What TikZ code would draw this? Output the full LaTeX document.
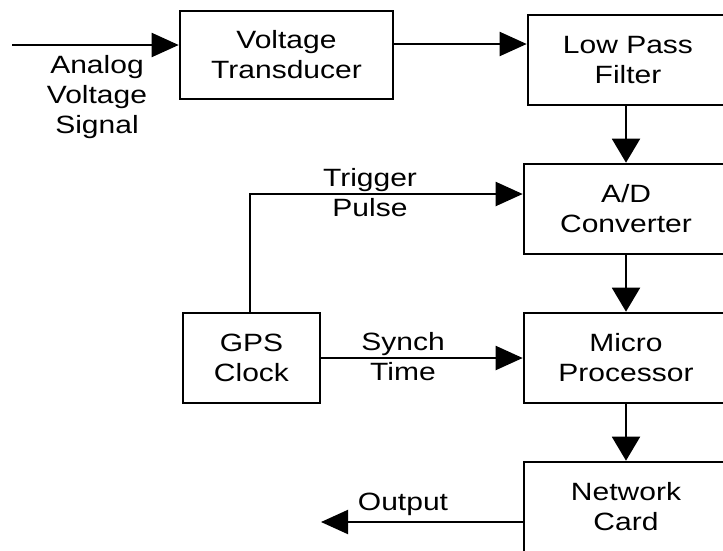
\documentclass[tikz,border=0pt]{standalone}
\usepackage{fontspec}
\setmainfont{Liberation Sans}[FakeStretch=1.2]
\usetikzlibrary{arrows.meta}
\tikzset{
  blk/.style={draw, line width=2.6pt, rectangle, align=center, inner sep=0pt},
  lbl/.style={align=center, inner sep=0pt},
  conn/.style={line width=2pt},
  harr/.style={conn, -{Triangle[length=27pt,width=24pt]}},
  varr/.style={conn, -{Triangle[length=24pt,width=28pt]}}
}
\begin{document}
\begin{tikzpicture}[x=1pt,y=-1pt,font=\fontsize{25}{30}\selectfont]
\fill[white] (0,0) rectangle (723,550);
\useasboundingbox (0,0) rectangle (723,550);
\begin{scope}
\clip (0,0) rectangle (723,550);
\node[blk, minimum width=213pt, minimum height=88pt] (vt) at (286.5,55) {Voltage\\Transducer};
\node[blk, minimum width=200pt, minimum height=90pt] (lpf) at (628,60) {Low Pass\\Filter};
\node[blk, minimum width=204pt, minimum height=90pt] (ad) at (626,209) {A/D\\Converter};
\node[blk, minimum width=204pt, minimum height=90pt] (mp) at (626,358) {Micro\\Processor};
\node[blk, minimum width=204pt, minimum height=90pt] (nc) at (626,507) {Network\\Card};
\node[blk, minimum width=137pt, minimum height=90pt] (gps) at (251.5,358) {GPS\\Clock};

\coordinate (in) at (12,45);
\coordinate (out) at (321,522);
\coordinate (trigtop) at (250,194);

\draw[harr] (in) -- (in -| vt.west);
\draw[harr] (vt.east |- 0,44) -- (lpf.west |- 0,44);
\draw[varr] (lpf.south -| ad.north) -- (ad.north);
\draw[varr] (ad.south) -- (mp.north);
\draw[varr] (mp.south) -- (nc.north);
\draw[harr] (gps.north -| trigtop) -- (trigtop) -- (trigtop -| ad.west);
\draw[harr] (gps.east) -- (mp.west);
\draw[harr] (nc.west |- out) -- (out);
\end{scope}

\node[lbl] (ans) at (97,97) {Analog\\Voltage\\Signal};
\node[lbl] (trig) at (370,193) {Trigger\\Pulse};
\node[lbl] (syn) at (403,357) {Synch\\Time};
\node[lbl] (outl) at (403,504) {Output};
\end{tikzpicture}
\end{document}
